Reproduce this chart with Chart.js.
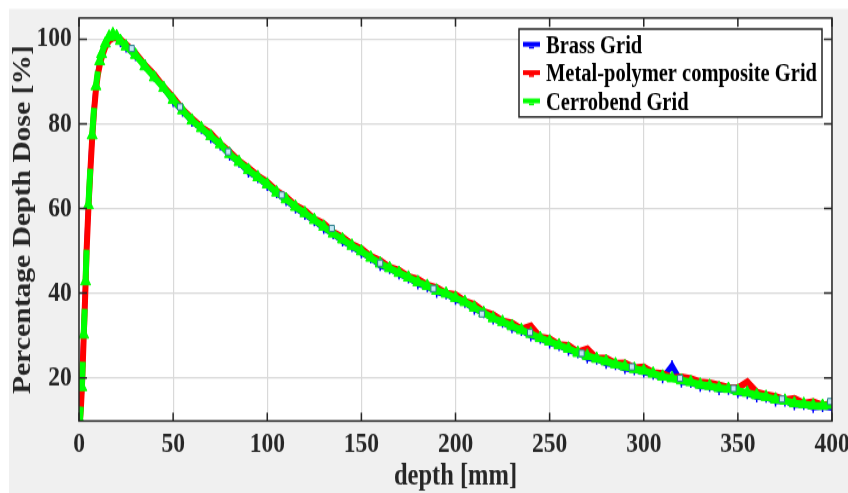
<!DOCTYPE html>
<html>
<head>
<meta charset="utf-8">
<script src="https://cdn.jsdelivr.net/npm/chart.js@4/dist/chart.umd.min.js"></script>
<style>
  html, body { margin: 0; padding: 0; width: 848px; height: 493px; overflow: hidden; background: #f0f0f0; }
  /* the figure is laid out at 848x408 and shown stretched to the full 493px height */
  #wrap { position: absolute; left: 0; top: 0; width: 848px; height: 408px;
          transform: scaleY(1.20833); transform-origin: 0 0; }
  canvas { display: block; }
</style>
</head>
<body>
<div id="wrap"><canvas id="pdd" width="848" height="408"></canvas></div>
<script>
// depth [mm] of each measured point
const depth = [0.5,1,1.5,2,2.5,3,3.5,4,5,6,7,8,9,10,11,12,14,16,18,20,22,25,
  30,35,40,45,50,55,60,65,70,75,80,85,90,95,100,105,110,115,120,125,130,135,140,145,
  150,155,160,165,170,175,180,185,190,195,200,205,210,215,220,225,230,235,240,245,
  250,255,260,265,270,275,280,285,290,295,300,305,310,315,320,325,330,335,340,345,
  350,355,360,365,370,375,380,385,390,395,400];

// percentage depth dose for each grid
const brass = [9.8,13.1,17.6,23.9,30.1,36.2,42.6,50.4,60.6,69.2,77.1,83.6,88.6,92.1,94.4,96.1,98.7,100.3,100.8,100.4,99.4,98.1,
  96.1,93.9,91.2,88.6,85.3,83.0,80.6,78.9,76.7,75.0,72.6,70.9,68.6,67.3,65.4,63.7,61.9,60.1,58.6,57.1,55.3,54.0,52.3,51.0,
  49.5,48.3,46.5,45.8,44.5,43.6,42.2,41.5,40.2,39.8,38.5,37.8,36.2,35.4,33.9,33.1,31.8,31.2,29.9,29.3,
  28.2,27.6,26.5,25.9,24.7,24.4,23.4,23.1,22.2,21.9,21.3,20.8,20.0,22.9,19.0,18.9,18.0,18.0,17.2,17.3,
  16.5,16.3,15.5,15.4,14.5,14.5,13.6,13.7,13.0,13.2,12.9];

const metal = [9.8,12.8,17.2,23.2,29.6,35.7,42.1,49.6,60.1,68.6,76.6,83.1,88.1,91.6,93.9,95.6,98.2,99.7,100.3,100.3,99.9,98.7,
  96.7,93.9,91.6,88.7,86.2,83.4,81.2,79.2,77.7,75.3,73.4,71.2,69.6,67.7,66.2,64.1,62.7,60.7,59.5,57.5,56.4,54.4,53.2,51.5,
  50.5,48.7,47.7,46.1,45.4,43.9,43.3,41.9,41.3,40.0,39.6,38.1,37.3,35.6,34.9,33.4,32.9,31.5,32.2,29.6,
  29.2,27.8,27.6,26.1,26.8,24.6,24.6,23.4,23.5,22.3,22.5,21.2,21.0,20.0,20.2,19.8,19.0,18.8,18.3,17.7,
  17.6,19.0,16.6,16.0,15.6,14.8,15.1,14.0,14.3,13.5,13.9];

const cerrobend = [9.9,13.2,17.8,23.8,30.2,36.3,42.8,50.3,60.8,69.4,77.3,83.8,88.9,92.4,94.8,96.5,99.0,100.6,101.2,100.7,99.6,98.3,
  96.3,93.6,91.0,88.5,85.7,83.2,80.8,79.0,77.1,75.2,72.9,71.0,69.1,67.4,65.7,63.8,62.2,60.4,58.9,57.3,55.7,54.1,52.7,51.2,
  49.9,48.4,47.0,45.9,44.8,43.7,42.6,41.7,40.6,39.9,38.9,37.9,36.6,35.3,34.1,33.2,32.2,31.3,30.4,29.4,
  28.6,27.7,26.9,25.9,25.2,24.5,23.9,23.2,22.7,22.1,21.7,21.0,20.3,19.9,19.4,19.0,18.4,18.1,17.6,17.4,
  16.9,16.5,15.9,15.5,14.9,14.6,14.0,13.8,13.5,13.4,13.6];

// sparse square markers along the curves
const sampleDepth = [28,53.7,79.3,107.7,134.3,160,188.3,214,239.6,267,293.7,319.3,347.7,373.4,399];
const sampleDose  = [97.8,84.0,73.4,63.2,55.3,47.1,41.1,35.1,30.7,25.8,22.6,19.9,17.5,15.0,14.4];

const xTicks = [0,50,100,150,200,250,300,350,400];
const yTicks = [20,40,60,80,100];

const seriesNames  = ['Brass Grid', 'Metal-polymer composite Grid', 'Cerrobend Grid'];
const seriesColors = ['#0000ff', '#ff0000', '#00ff00'];

const SERIF = "'Liberation Serif', 'Times New Roman', serif";
const AXIS_COLOR = '#262626';

const toPoints = (xs, ys) => xs.map((x, i) => ({ x: x, y: ys[i] }));

// figure background, white strip at the top/left edge, white axes face
const backdrop = {
  id: 'backdrop',
  beforeDraw(chart) {
    const { ctx, width, height, chartArea: a } = chart;
    ctx.save();
    ctx.fillStyle = '#f0f0f0';
    ctx.fillRect(0, 0, width, height);
    ctx.fillStyle = '#ffffff';
    ctx.fillRect(0, 0, width, 7.4);
    ctx.fillRect(0, 0, 9, height);
    ctx.fillRect(a.left, a.top, a.right - a.left, a.bottom - a.top);
    ctx.restore();
  }
};

// axes box with inward ticks on all four sides, plus the boxed legend
const axesBox = {
  id: 'axesBox',
  afterDraw(chart) {
    const { ctx, chartArea: a, scales } = chart;
    ctx.save();
    ctx.strokeStyle = AXIS_COLOR;
    ctx.lineWidth = 1.5;
    ctx.strokeRect(a.left, a.top, a.right - a.left, a.bottom - a.top);
    ctx.beginPath();
    xTicks.forEach(v => {
      const px = scales.x.getPixelForValue(v);
      ctx.moveTo(px, a.bottom); ctx.lineTo(px, a.bottom - 7);
      ctx.moveTo(px, a.top);    ctx.lineTo(px, a.top + 7);
    });
    yTicks.forEach(v => {
      const py = scales.y.getPixelForValue(v);
      ctx.moveTo(a.left, py);  ctx.lineTo(a.left + 8, py);
      ctx.moveTo(a.right, py); ctx.lineTo(a.right - 8, py);
    });
    ctx.stroke();

    // legend
    const box = { x: 519, y: 24.0, w: 303, h: 72.8 };
    ctx.fillStyle = '#ffffff';
    ctx.fillRect(box.x, box.y, box.w, box.h);
    ctx.strokeStyle = AXIS_COLOR;
    ctx.lineWidth = 1.5;
    ctx.strokeRect(box.x, box.y, box.w, box.h);
    const rows = [38.6, 62.1, 85.5];
    ctx.font = "bold 20.5px " + SERIF;
    ctx.textAlign = 'left';
    ctx.textBaseline = 'middle';
    seriesNames.forEach((name, i) => {
      const cy = rows[i] - 2;
      ctx.fillStyle = seriesColors[i];
      ctx.fillRect(523, cy - 2, 17, 4);
      ctx.fillRect(529, cy + 2, 5, 1.6);
      ctx.fillStyle = '#000000';
      ctx.fillText(name, 546, rows[i]);
    });
    ctx.restore();
  }
};

// on the steep build-up every other green segment and marker is left open,
// so the red line shows through in between
const inBuildUpGap = i => i < 14 && i % 2 === 1;
const buildUpGap = ctx => inBuildUpGap(ctx.p0DataIndex) ? 'rgba(0,0,0,0)' : undefined;
const greenRadius = ctx => inBuildUpGap(ctx.dataIndex) ? 0 : 5.8;

new Chart(document.getElementById('pdd'), {
  type: 'scatter',
  data: {
    datasets: [
      {
        label: 'samples',
        data: toPoints(sampleDepth, sampleDose),
        showLine: false,
        pointStyle: 'rect',
        pointRadius: 3.6,
        pointBackgroundColor: '#c4e6f4',
        pointBorderColor: '#2c7f8c',
        pointBorderWidth: 1,
        order: 0
      },
      {
        label: seriesNames[2],
        data: toPoints(depth, cerrobend),
        showLine: true,
        borderColor: seriesColors[2],
        backgroundColor: seriesColors[2],
        borderWidth: 6,
        segment: { borderColor: buildUpGap },
        pointStyle: 'triangle',
        pointRadius: greenRadius,
        pointBorderWidth: 1,
        pointBackgroundColor: seriesColors[2],
        pointBorderColor: seriesColors[2],
        order: 1
      },
      {
        label: seriesNames[1],
        data: toPoints(depth, metal),
        showLine: true,
        borderColor: seriesColors[1],
        backgroundColor: seriesColors[1],
        borderWidth: 6,
        pointStyle: 'rect',
        pointRadius: 3,
        pointBorderWidth: 0,
        pointBackgroundColor: seriesColors[1],
        order: 2
      },
      {
        label: seriesNames[0],
        data: toPoints(depth, brass),
        showLine: true,
        borderColor: seriesColors[0],
        backgroundColor: seriesColors[0],
        borderWidth: 5,
        pointStyle: 'line',
        rotation: 90,
        pointRadius: 4.5,
        pointBorderWidth: 1.5,
        pointBorderColor: seriesColors[0],
        order: 3
      }
    ]
  },
  options: {
    responsive: false,
    animation: false,
    events: [],
    layout: { padding: { top: 14.9, right: 16, bottom: 0, left: 0 } },
    plugins: { legend: { display: false }, tooltip: { enabled: false } },
    elements: { line: { tension: 0 } },
    scales: {
      x: {
        type: 'linear',
        min: 0, max: 400,
        afterFit: s => { s.height = 59.6; s.paddingLeft = 0; s.paddingRight = 0; },
        afterBuildTicks: s => { s.ticks = xTicks.map(v => ({ value: v })); },
        border: { display: false },
        grid: { color: '#d9d9d9', lineWidth: 1.2, drawTicks: false },
        ticks: {
          autoSkip: false, maxRotation: 0, padding: 5.8, color: AXIS_COLOR,
          font: { family: SERIF, size: 23.5, weight: 'bold' }
        },
        title: {
          display: true, text: 'depth [mm]', color: AXIS_COLOR,
          font: { family: SERIF, size: 24.5, weight: 'bold', lineHeight: 1 },
          padding: { top: 0, bottom: 0.9 }
        }
      },
      y: {
        type: 'linear',
        min: 9.8, max: 105,
        afterFit: s => { s.width = 79; s.paddingTop = 0; s.paddingBottom = 0; },
        afterBuildTicks: s => { s.ticks = yTicks.map(v => ({ value: v })); },
        border: { display: false },
        grid: { color: '#d9d9d9', lineWidth: 1.2, drawTicks: false },
        ticks: {
          padding: 7.3, color: AXIS_COLOR,
          font: { family: SERIF, size: 23.5, weight: 'bold' }
        },
        title: {
          display: true, text: 'Percentage Depth Dose [%]', color: AXIS_COLOR,
          font: { family: SERIF, size: 24.5, weight: 'bold', lineHeight: 1 },
          padding: { top: 11.1, bottom: 0 }
        }
      }
    }
  },
  plugins: [backdrop, axesBox]
});
</script>
</body>
</html>
